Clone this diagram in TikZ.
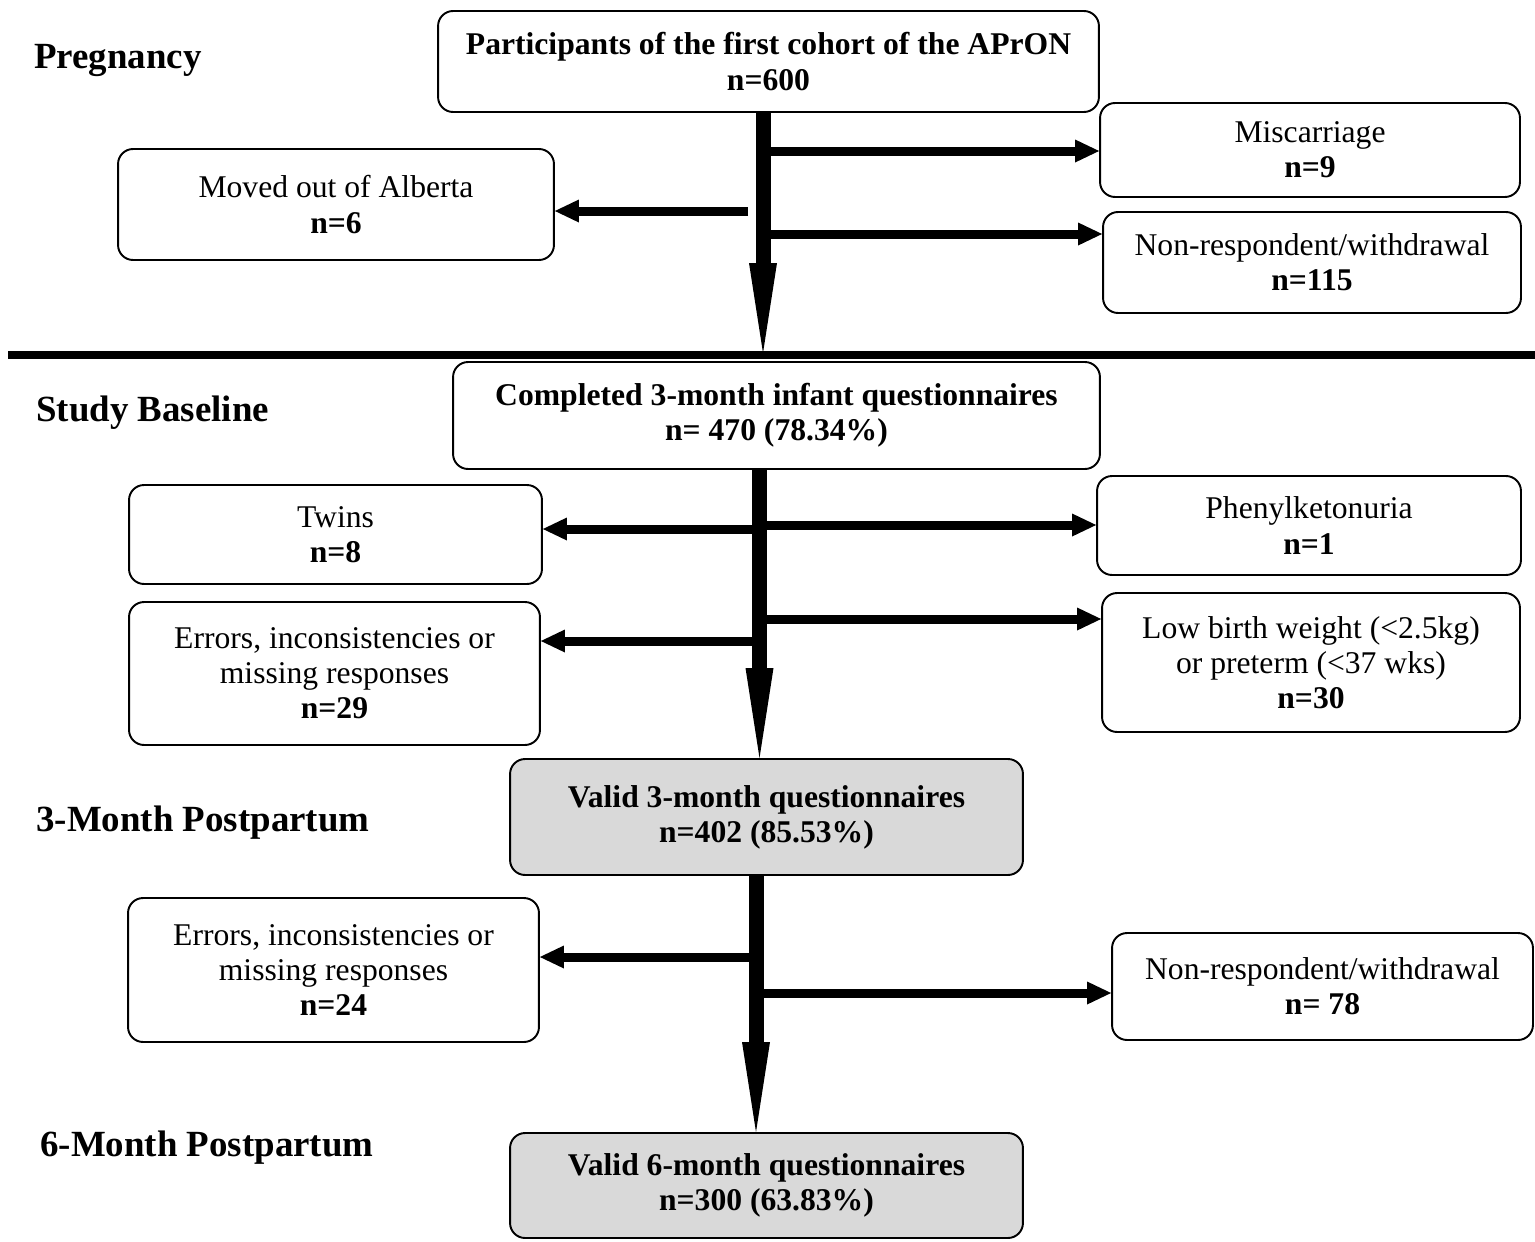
\documentclass[tikz,border=0pt]{standalone}
\usepackage{fontspec}
\setmainfont{Liberation Serif}
\usetikzlibrary{arrows.meta,calc}
\definecolor{validgray}{RGB}{217,217,217}
\tikzset{
  box/.style={draw, line width=1.1pt, rounded corners=0.3cm, align=center, inner sep=2pt,
              font=\fontsize{18}{20}\selectfont},
  mainbox/.style={box, font=\fontsize{18}{20}\selectfont\bfseries},
  validbox/.style={mainbox, fill=validgray},
  wh/.style 2 args={minimum width=#1cm, minimum height=#2cm},
  phase/.style={anchor=base west, inner sep=0pt, font=\fontsize{21}{24}\selectfont\bfseries},
  trunk/.style={-{Triangle[length=1.8cm,width=0.56cm,line width=0pt]}, line width=0.3cm},
  branch/.style={-{Triangle[length=0.48cm,width=0.46cm,line width=0pt]}, line width=0.18cm},
  divider/.style={line width=0.16cm}
}

\begin{document}
\begin{tikzpicture}[x=0.02cm, y=-0.02cm]
\useasboundingbox (0,0) rectangle (1535,1241);
% phases
\node[phase] (pregnancy) at (34,68) {Pregnancy};
\node[phase] (baseline) at (36,421) {Study Baseline};
\node[phase] (month3) at (36,831) {3-Month Postpartum};
\node[phase] (month6) at (40,1156) {6-Month Postpartum};
% boxes
\node[mainbox, wh={13.22}{2.02}] (cohort) at (768.5,61.5) {Participants of the first cohort of the APrON\\n=600};
\node[box, wh={8.72}{2.22}] (moved) at (336,204.5) {Moved out of Alberta\\\textbf{n=6}};
\node[box, wh={8.4}{1.88}] (miscarriage) at (1310,150) {Miscarriage\\\textbf{n=9}};
\node[box, wh={8.36}{2.02}] (withdrawn1) at (1312,262.5) {Non-respondent/withdrawal\\\textbf{n=115}};
\node[mainbox, wh={12.94}{2.14}] (completed) at (776.5,415.5) {Completed 3-month infant questionnaires\\n= 470 (78.34\%)};
\node[box, wh={8.26}{1.98}] (twins) at (335.5,534.5) {Twins\\\textbf{n=8}};
\node[box, wh={8.22}{2.86}] (errors1) at (334.5,673.5) {Errors, inconsistencies or\\missing responses\\\textbf{n=29}};
\node[box, wh={8.48}{1.98}] (pku) at (1309,525.5) {Phenylketonuria\\\textbf{n=1}};
\node[box, wh={8.36}{2.78}] (lowbw) at (1311,662.5) {Low birth weight (<2.5kg)\\or preterm (<37 wks)\\\textbf{n=30}};
\node[validbox, wh={10.26}{2.32}] (valid3) at (766.5,817) {Valid 3-month questionnaires\\n=402 (85.53\%)};
\node[box, wh={8.22}{2.88}] (errors2) at (333.5,970) {Errors, inconsistencies or\\missing responses\\\textbf{n=24}};
\node[box, wh={8.42}{2.14}] (withdrawn2) at (1322.5,986.5) {Non-respondent/withdrawal\\\textbf{n= 78}};
\node[validbox, wh={10.26}{2.1}] (valid6) at (766.5,1185.5) {Valid 6-month questionnaires\\n=300 (63.83\%)};
% pregnancy flow
\coordinate (ja) at (763,151);
\coordinate (jb) at (748,211);
\coordinate (jc) at (763,234);
\coordinate (enda) at (763,353);
\draw[trunk] (cohort.south -| ja) -- (enda);
\draw[branch] (ja) -- (ja -| miscarriage.west);
\draw[branch] (jb) -- (jb -| moved.east);
\draw[branch] (jc) -- (jc -| withdrawn1.west);
\draw[divider] (8,355) -- (1535,355);
% baseline flow
\coordinate (jd) at (759.5,529);
\coordinate (je) at (759.5,525);
\coordinate (jf) at (759.5,641);
\coordinate (jg) at (759.5,619);
\draw[trunk] (completed.south -| jd) -- (valid3.north -| jd);
\draw[branch] (jd) -- (jd -| twins.east);
\draw[branch] (je) -- (je -| pku.west);
\draw[branch] (jf) -- (jf -| errors1.east);
\draw[branch] (jg) -- (jg -| lowbw.west);
% postpartum flow
\coordinate (jh) at (756,957);
\coordinate (ji) at (756,993);
\draw[trunk] (valid3.south -| jh) -- (valid6.north -| jh);
\draw[branch] (jh) -- (jh -| errors2.east);
\draw[branch] (ji) -- (ji -| withdrawn2.west);
\end{tikzpicture}
\end{document}
